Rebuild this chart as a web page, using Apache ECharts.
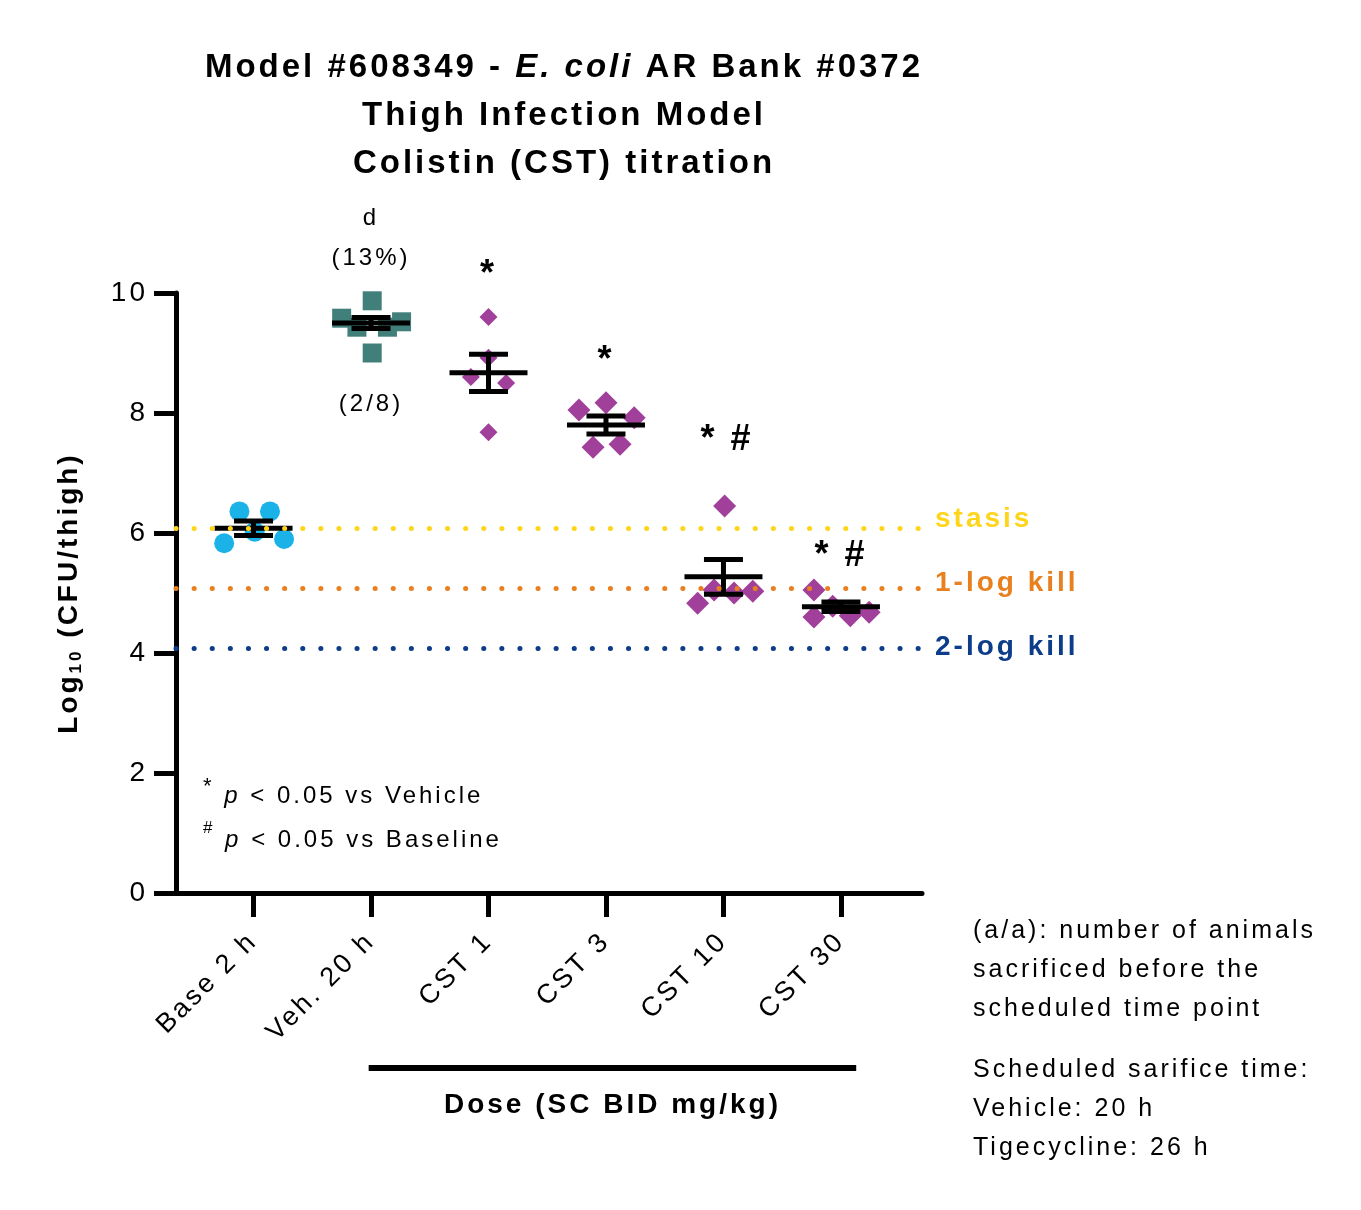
<!DOCTYPE html>
<html>
<head>
<meta charset="utf-8">
<title>Model #608349 - Colistin titration</title>
<script src="https://cdn.jsdelivr.net/npm/echarts@6/dist/echarts.min.js"></script>
<style>
  html, body { margin: 0; padding: 0; background: #fff; }
  #chart { width: 1361px; height: 1210px; }
</style>
</head>
<body>
<div id="chart"></div>
<script>
// Prism exports its text letter-spaced; canvas can do that natively.
const origGetContext = HTMLCanvasElement.prototype.getContext;
HTMLCanvasElement.prototype.getContext = function (type, opts) {
  const ctx = origGetContext.call(this, type, opts);
  if (type === '2d' && ctx) ctx.letterSpacing = '3px';
  return ctx;
};

const FONT = '"Liberation Sans", Arial, sans-serif';

// ---- data ----
const categories = ['Base 2 h', 'Veh. 20 h', 'CST 1', 'CST 3', 'CST 10', 'CST 30'];

// log10 CFU per thigh, one array per group
const baseValues = [6.36, 6.36, 5.83, 6.02, 5.90];
const vehicleValues = [9.87, 9.58, 9.52, 9.43, 9.43, 9.00];
const cst1Values = [9.60, 8.92, 8.60, 8.50, 7.68];
const cst3Values = [8.05, 8.17, 7.92, 7.43, 7.48];
const cst10Values = [6.45, 4.83, 5.05, 5.00, 5.03];
const cst30Values = [5.05, 4.60, 4.78, 4.62, 4.68];

// horizontal scatter of the points inside each group (category units)
const baseSpread = [-0.12, 0.14, -0.25, 0.01, 0.26];
const vehicleSpread = [0.01, -0.25, 0.26, -0.12, 0.14, 0.01];
const cst1Spread = [0, 0, -0.15, 0.15, 0];
const cst3Spread = [-0.23, 0, 0.24, -0.11, 0.12];
const cst10Spread = [0.01, -0.22, -0.08, 0.09, 0.25];
const cst30Spread = [-0.23, -0.23, -0.07, 0.08, 0.24];

const groupMeans = [6.08, 9.50, 8.67, 7.80, 5.27, 4.77];
const groupSems = [0.12, 0.09, 0.31, 0.15, 0.29, 0.08];

const thresholdValues = [6.08, 5.08, 4.08];
const thresholdNames = ['stasis', '1-log kill', '2-log kill'];

// text marks placed in data space: [category index, log value, text]
const noteMarks = [[1, 11.25, 'd'], [1, 10.58, '(13%)'], [1, 8.15, '(2/8)']];
const sigMarks = [[2, 10.30, '*'], [3, 8.86, '*'], [4.03, 7.55, '* #'], [5, 5.62, '* #']];

const doseSpan = [0.98, 5.13];

// ---- styling ----
const groups = [
  { values: baseValues, spread: baseSpread, symbol: 'circle', size: 20, color: '#1bb3e7' },
  { values: vehicleValues, spread: vehicleSpread, symbol: 'rect', size: 19, color: '#417f7b' },
  { values: cst1Values, spread: cst1Spread, symbol: 'diamond', size: 18, color: '#a1409b' },
  { values: cst3Values, spread: cst3Spread, symbol: 'diamond', size: 23, color: '#a1409b' },
  { values: cst10Values, spread: cst10Spread, symbol: 'diamond', size: 23, color: '#a1409b' },
  { values: cst30Values, spread: cst30Spread, symbol: 'diamond', size: 23, color: '#a1409b' },
];
const thresholdColors = ['#ffd51c', '#e8801f', '#0d3d8a'];
const thresholdLift = [9, 5, 1];

const chart = echarts.init(document.getElementById('chart'), null, { renderer: 'canvas' });

const pointSeries = groups.map((g, gi) => ({
  name: categories[gi],
  type: 'scatter',
  symbol: g.symbol,
  symbolSize: g.size,
  itemStyle: { color: g.color, opacity: 1 },
  z: 2,
  data: g.values.map((v, i) => [gi + g.spread[i], v]),
}));

const errorSeries = {
  type: 'custom',
  z: 3,
  data: groupMeans.map((m, i) => [i, m, groupSems[i]]),
  renderItem: (params, api) => {
    const x = api.value(0);
    const m = api.value(1);
    const s = api.value(2);
    const c = api.coord([x, m]);
    const hi = api.coord([x, m + s]);
    const lo = api.coord([x, m - s]);
    const style = { stroke: '#000', lineWidth: 5 };
    const seg = (x1, y1, x2, y2) => ({ type: 'line', shape: { x1, y1, x2, y2 }, style });
    return {
      type: 'group',
      children: [
        seg(c[0] - 39, c[1], c[0] + 39, c[1]),
        seg(c[0], hi[1], c[0], lo[1]),
        seg(c[0] - 19.5, hi[1], c[0] + 19.5, hi[1]),
        seg(c[0] - 19.5, lo[1], c[0] + 19.5, lo[1]),
      ],
    };
  },
};

const thresholdSeries = {
  type: 'scatter',
  z: 5,
  data: [],
  markLine: {
    silent: true,
    symbol: 'none',
    animation: false,
    label: { show: false },
    data: thresholdValues.map((v, i) => ({
      yAxis: v,
      lineStyle: { color: thresholdColors[i], width: 5, type: [0.1, 18], cap: 'round' },
    })),
  },
};

chart.setOption({
  animation: false,
  backgroundColor: '#fff',
  textStyle: { fontFamily: FONT },
  grid: { left: 176, top: 293, width: 746, height: 600, containLabel: false },
  xAxis: {
    type: 'value',
    min: -0.66,
    max: 5.69,
    splitLine: { show: false },
    axisLine: { onZero: false, lineStyle: { color: '#000', width: 5 } },
    axisTick: { customValues: [0, 1, 2, 3, 4, 5], length: 24, lineStyle: { color: '#000', width: 5 } },
    axisLabel: {
      customValues: [0, 1, 2, 3, 4, 5],
      formatter: v => categories[v],
      rotate: 45, margin: 44, fontSize: 27, color: '#000', fontFamily: FONT,
    },
  },
  yAxis: {
    type: 'value',
    min: 0,
    max: 10,
    interval: 2,
    splitLine: { show: false },
    axisLine: { show: true, onZero: false, lineStyle: { color: '#000', width: 5 } },
    axisTick: { show: true, length: 22, lineStyle: { color: '#000', width: 5 } },
    axisLabel: { fontSize: 28, color: '#000', margin: 28, fontFamily: FONT },
    name: '{a|Log}{sub|10}{a| (CFU/thigh)}',
    nameLocation: 'middle',
    nameGap: 90,
    nameTextStyle: {
      rich: {
        a: { fontSize: 28, fontWeight: 'bold', lineHeight: 34, color: '#000', fontFamily: FONT },
        sub: { fontSize: 17, fontWeight: 'bold', lineHeight: 22, verticalAlign: 'bottom', color: '#000', fontFamily: FONT },
      },
    },
  },
  series: [...pointSeries, errorSeries, thresholdSeries],
});

// ---- text marks, titles, footnotes, dose bracket ----
const toPx = (x, y) => chart.convertToPixel({ gridIndex: 0 }, [x, y]);

function markText(mark, fontSize, fontWeight) {
  const p = toPx(mark[0], mark[1]);
  return {
    type: 'text', x: p[0], y: p[1], z: 10,
    style: {
      text: mark[2], fontSize, fontWeight, fontFamily: FONT, fill: '#000',
      align: 'center', verticalAlign: 'middle',
    },
  };
}

const thresholdTexts = thresholdValues.map((v, i) => {
  const p = toPx(5.69, v);
  return {
    type: 'text', x: p[0] + 13, y: p[1] - thresholdLift[i], z: 10,
    style: {
      text: thresholdNames[i], fontSize: 28, fontWeight: 'bold', fontFamily: FONT,
      fill: thresholdColors[i], align: 'left', verticalAlign: 'middle',
    },
  };
});

const x0 = toPx(doseSpan[0], 0)[0];
const x1 = toPx(doseSpan[1], 0)[0];

chart.setOption({
  graphic: [
    ...noteMarks.map(m => markText(m, 24, 'normal')),
    ...sigMarks.map(m => markText(m, 36, 'bold')),
    ...thresholdTexts,
    {
      type: 'text', x: 564, y: 44,
      style: {
        text: '{b|Model #608349 - }{i|E. coli}{b| AR Bank #0372}\n{b|Thigh Infection Model}\n{b|Colistin (CST) titration}',
        align: 'center', verticalAlign: 'top',
        rich: {
          b: { fontSize: 33, fontWeight: 'bold', lineHeight: 48, fill: '#000', fontFamily: FONT },
          i: { fontSize: 33, fontWeight: 'bold', fontStyle: 'italic', lineHeight: 48, fill: '#000', fontFamily: FONT },
        },
      },
    },
    {
      type: 'text', x: 203, y: 774,
      style: {
        text: '{star|*} {it|p}{n| < 0.05 vs Vehicle}\n{hash|#} {it|p}{n| < 0.05 vs Baseline}',
        align: 'left', verticalAlign: 'top',
        fontSize: 24, lineHeight: 44, fontFamily: FONT, fill: '#000',
        rich: {
          n: { fontSize: 24, lineHeight: 44, fontFamily: FONT, fill: '#000' },
          it: { fontSize: 24, lineHeight: 44, fontStyle: 'italic', fontFamily: FONT, fill: '#000' },
          star: { fontSize: 22, lineHeight: 40, verticalAlign: 'top', fontFamily: FONT, fill: '#000' },
          hash: { fontSize: 17, lineHeight: 22, verticalAlign: 'top', fontFamily: FONT, fill: '#000' },
        },
      },
    },
    {
      type: 'text', x: 973, y: 912,
      style: {
        text: '(a/a): number of animals\nsacrificed before the\nscheduled time point',
        fontSize: 25, lineHeight: 39, fontFamily: FONT, fill: '#000', align: 'left', verticalAlign: 'top',
      },
    },
    {
      type: 'text', x: 973, y: 1051,
      style: {
        text: 'Scheduled sarifice time:\nVehicle: 20 h\nTigecycline: 26 h',
        fontSize: 25, lineHeight: 39, fontFamily: FONT, fill: '#000', align: 'left', verticalAlign: 'top',
      },
    },
    {
      type: 'line',
      shape: { x1: x0, y1: 1068, x2: x1, y2: 1068 },
      style: { stroke: '#000', lineWidth: 6 },
    },
    {
      type: 'text', x: (x0 + x1) / 2, y: 1105,
      style: {
        text: 'Dose (SC BID mg/kg)',
        fontSize: 28, fontWeight: 'bold', fontFamily: FONT, fill: '#000',
        align: 'center', verticalAlign: 'middle',
      },
    },
  ],
});
</script>
</body>
</html>
